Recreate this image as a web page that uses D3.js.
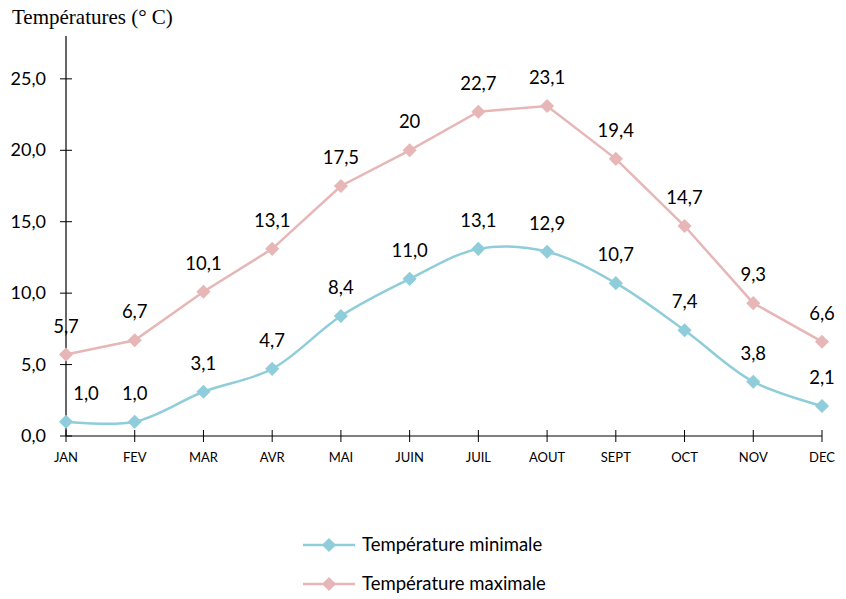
<!DOCTYPE html>
<html><head><meta charset="utf-8">
<script src="https://cdn.jsdelivr.net/npm/d3@7"></script>
<style>body{margin:0;background:#fff}svg{display:block}</style>
</head><body>
<svg id="c" width="846" height="599"></svg>
<script>
const months = ["JAN","FEV","MAR","AVR","MAI","JUIN","JUIL","AOUT","SEPT","OCT","NOV","DEC"];
const tMin = [1.0,1.0,3.1,4.7,8.4,11.0,13.1,12.9,10.7,7.4,3.8,2.1];
const tMax = [5.7,6.7,10.1,13.1,17.5,20,22.7,23.1,19.4,14.7,9.3,6.6];
const maxLabels = ["5,7","6,7","10,1","13,1","17,5","20","22,7","23,1","19,4","14,7","9,3","6,6"];
const minLabels = ["1,0","1,0","3,1","4,7","8,4","11,0","13,1","12,9","10,7","7,4","3,8","2,1"];
const yTicks = [0,5,10,15,20,25];
const seriesNames = ["Température minimale","Température maximale"];

const font = "Lato, 'Open Sans', sans-serif";
const svg = d3.select("#c");
const x = d3.scalePoint().domain(months).range([66,822]);
const y = d3.scaleLinear().domain([0,28]).range([436,36]);
const cMin = "#8fcdda", cMax = "#e6b7b6";

svg.append("text").attr("x",12).attr("y",24).attr("font-family","'Liberation Serif', serif")
  .attr("font-size",21).attr("fill","#000").text("Températures (° C)");

// y axis
svg.append("line").attr("x1",66).attr("x2",66).attr("y1",36).attr("y2",436).attr("stroke","#000").attr("stroke-width",1.2);
const yt = svg.append("g").selectAll("g").data(yTicks).join("g");
yt.append("line").attr("x1",60).attr("x2",72).attr("y1",d=>y(d)).attr("y2",d=>y(d)).attr("stroke","#000");
yt.append("text").attr("x",46).attr("y",d=>y(d)+6).attr("text-anchor","end").attr("font-family",font)
  .attr("font-size",18).text(d=>d.toFixed(1).replace(".",","));

// x axis
svg.append("line").attr("x1",66).attr("x2",822).attr("y1",436).attr("y2",436).attr("stroke","#000").attr("stroke-width",1.2);
const xt = svg.append("g").selectAll("g").data(months).join("g");
xt.append("line").attr("x1",d=>x(d)).attr("x2",d=>x(d)).attr("y1",430).attr("y2",442).attr("stroke","#000");
xt.append("text").attr("x",d=>x(d)).attr("y",462).attr("text-anchor","middle").attr("font-family",font)
  .attr("font-size",13).text(d=>d);

function drawSeries(vals, color, curve, labels, dxFirst){
  const line = d3.line().x((d,i)=>x(months[i])).y(d=>y(d)).curve(curve);
  svg.append("path").attr("d",line(vals)).attr("fill","none").attr("stroke",color).attr("stroke-width",2.5);
  svg.append("g").selectAll("path").data(vals).join("path")
    .attr("d",d3.symbol().type(d3.symbolSquare).size(100)())
    .attr("transform",(d,i)=>`translate(${x(months[i])},${y(d)}) rotate(45)`)
    .attr("fill",color);
  svg.append("g").selectAll("text").data(vals).join("text")
    .attr("x",(d,i)=>x(months[i]) + (i===0?dxFirst:0))
    .attr("y",d=>y(d)-22).attr("text-anchor","middle").attr("font-family",font)
    .attr("font-size",18.5).attr("fill","#000").text((d,i)=>labels[i]);
}
drawSeries(tMax, cMax, d3.curveLinear, maxLabels, 0);
drawSeries(tMin, cMin, d3.curveCatmullRom.alpha(0.5), minLabels, 20);

// legend
const leg = svg.append("g").selectAll("g").data([[seriesNames[0],cMin],[seriesNames[1],cMax]]).join("g")
  .attr("transform",(d,i)=>`translate(0,${545+i*39})`);
leg.append("line").attr("x1",303).attr("x2",355).attr("y1",0).attr("y2",0).attr("stroke",d=>d[1]).attr("stroke-width",2.5);
leg.append("path").attr("d",d3.symbol().type(d3.symbolSquare).size(100)()).attr("transform","translate(329,0) rotate(45)").attr("fill",d=>d[1]);
leg.append("text").attr("x",362).attr("y",6).attr("font-family",font).attr("font-size",18.5).text(d=>d[0]);
</script>
</body></html>
